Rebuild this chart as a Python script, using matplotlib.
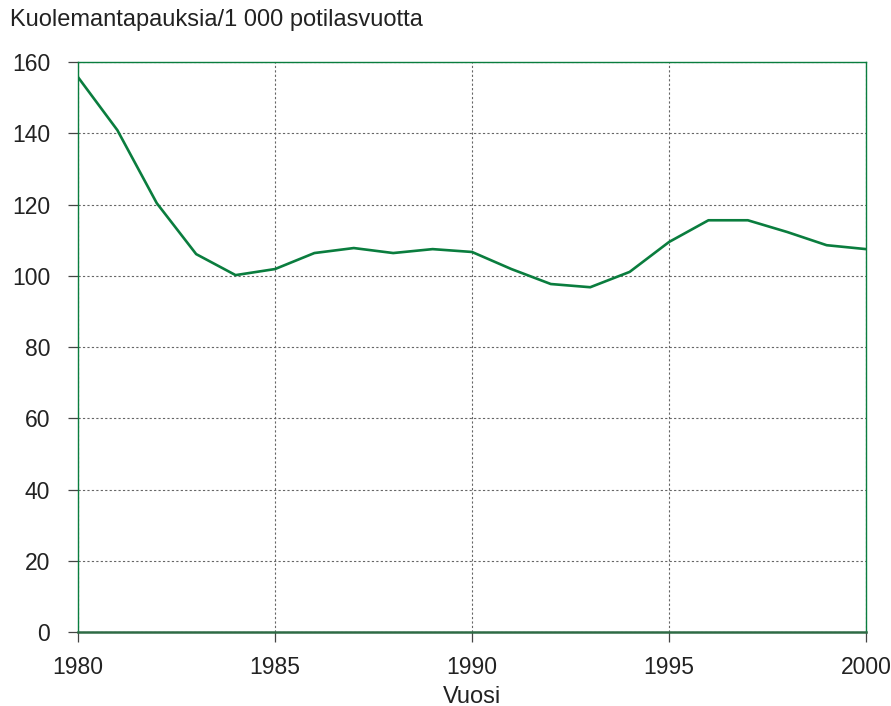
import numpy as np
import matplotlib.pyplot as plt

plt.rcParams['font.family'] = ['Liberation Sans', 'DejaVu Sans']

vuodet = [1980, 1981, 1982, 1983, 1984, 1985, 1986, 1987, 1988, 1989, 1990,
          1991, 1992, 1993, 1994, 1995, 1996, 1997, 1998, 1999, 2000]
kuolleisuus = [155.8, 140.9, 120.4, 106.1, 100.2, 101.9, 106.4, 107.8, 106.4, 107.5, 106.7,
               101.9, 97.7, 96.8, 101.1, 109.5, 115.6, 115.6, 112.3, 108.6, 107.5]

vihrea = '#0a7d3e'

fig = plt.figure(figsize=(8.91, 7.06), dpi=100)
ax = fig.add_axes([0.0875, 0.1048, 0.8845, 0.8072])

ax.plot(vuodet, kuolleisuus, color=vihrea, lw=1.9, zorder=3)

ax.set_xlim(1980, 2000)
ax.set_ylim(0, 160)
ax.set_xticks([1980, 1985, 1990, 1995, 2000])
ax.set_yticks(np.arange(0, 161, 20))

ax.grid(True, color='#666666', linestyle=(0, (2, 2)), lw=0.8)
for s in ax.spines.values():
    s.set_color(vihrea)
    s.set_linewidth(1.0)
ax.spines['bottom'].set_color('#2e6b45')
ax.spines['bottom'].set_linewidth(1.8)
ax.spines['bottom'].set_zorder(4)

ax.tick_params(axis='both', direction='out', length=7, width=0.9, color='#444444',
               labelsize=16.5, labelcolor='#222222')
ax.tick_params(axis='y', pad=13)
ax.tick_params(axis='x', pad=10)

ax.set_xlabel('Vuosi', fontsize=17, color='#222222', labelpad=5)
fig.text(0.011, 0.972, 'Kuolemantapauksia/1 000 potilasvuotta', fontsize=17,
         color='#222222', ha='left', va='center')

fig.savefig('out.png', dpi=100)
